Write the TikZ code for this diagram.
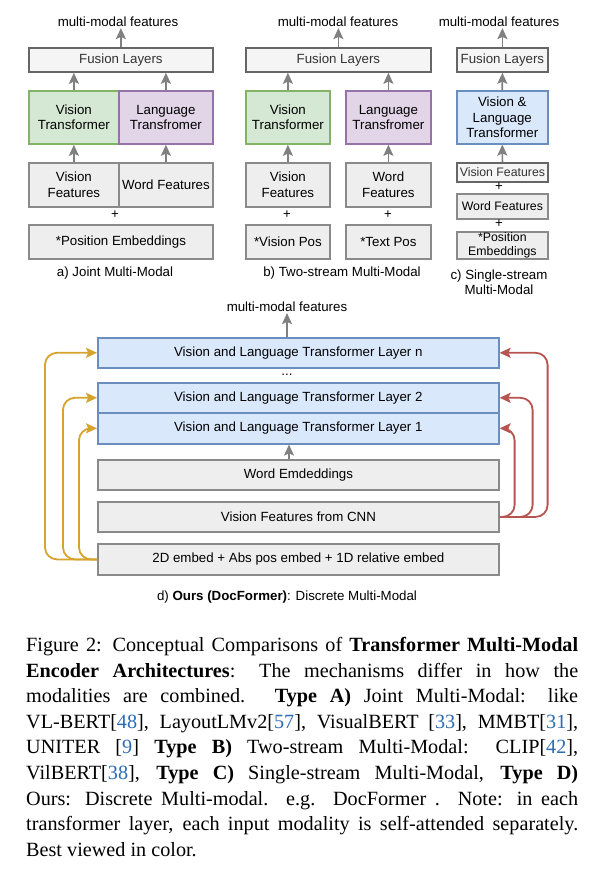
\documentclass[tikz,border=0pt]{standalone}
\usepackage{fontspec}
\setmainfont{Liberation Sans}
\newfontfamily\capfont{Liberation Serif}
\usetikzlibrary{arrows.meta}
\definecolor{grayfill}{HTML}{EEEEEE}
\definecolor{graystroke}{HTML}{8A8A8A}
\definecolor{lightfill}{HTML}{F5F5F5}
\definecolor{darkstroke}{HTML}{666666}
\definecolor{txtgray}{HTML}{333333}
\definecolor{greenfill}{HTML}{D5E8D4}
\definecolor{greenstroke}{HTML}{82B366}
\definecolor{purplefill}{HTML}{E1D5E7}
\definecolor{purplestroke}{HTML}{9673A6}
\definecolor{bluefill}{HTML}{DAE8FC}
\definecolor{bluestroke}{HTML}{6C8EBF}
\definecolor{yel}{HTML}{D6A42C}
\definecolor{redl}{HTML}{B85450}
\definecolor{arrgray}{HTML}{808080}
\definecolor{citeblue}{HTML}{2B6CB5}
\newcommand{\bx}[7]{\node[#6, anchor=north west, minimum width={#4pt-#2pt}, minimum height={#5pt-#3pt}] (#1) at (#2pt,-#3pt) {#7};}
\newcommand{\cit}[1]{{\color{citeblue}#1}}
\tikzset{
  base/.style={draw, line width=1.8pt, inner sep=1pt, align=center, font=\fontsize{13.3}{15.5}\selectfont},
  graybox/.style={base, fill=grayfill, draw=graystroke},
  fusionbox/.style={base, fill=lightfill, draw=darkstroke, text=txtgray},
  greenbox/.style={base, fill=greenfill, draw=greenstroke},
  purplebox/.style={base, fill=purplefill, draw=purplestroke},
  bluebox/.style={base, fill=bluefill, draw=bluestroke, line width=1.6pt},
  smallgray/.style={graybox, font=\fontsize{12.3}{13.5}\selectfont},
  smalllight/.style={fusionbox, font=\fontsize{12.3}{13.5}\selectfont},
  lbl/.style={inner sep=1pt, align=center, font=\fontsize{13.3}{15.5}\selectfont},
  tip/.style={-{Stealth[length=11pt,width=10pt,inset=2.2pt]}},
  arr/.style={draw=arrgray, line width=1.7pt, tip},
  yarr/.style={draw=yel, line width=1.8pt, rounded corners=12pt, tip},
  rarr/.style={draw=redl, line width=1.8pt, rounded corners=12pt, tip},
}
\begin{document}
\begin{tikzpicture}
\useasboundingbox[fill=white] (0,0) rectangle (604pt,-878pt);
% ---------- a) ----------
\node[lbl] (mma) at (118pt,-22pt) {multi-modal features};
\bx{fa}{28}{47}{212}{71}{fusionbox}{Fusion Layers}
\bx{vta}{28}{90}{118}{143}{greenbox}{Vision\\Transformer}
\bx{lta}{118}{90}{212}{143}{purplebox}{Language\\Transfromer}
\bx{vfa}{28}{162}{118}{206}{graybox}{Vision\\Features}
\bx{wfa}{118}{162}{212}{206}{graybox}{Word Features}
\node[lbl] (pla) at (115pt,-215pt) {+};
\bx{pea}{28}{224}{212}{258}{graybox}{*Position Embeddings}
\node[lbl] (capa) at (115pt,-273pt) {a) Joint Multi-Modal};
\draw[arr] (fa.north) -- (fa.north |- mma.south);
\draw[arr] (vta.north) -- (vta.north |- fa.south);
\draw[arr] (lta.north) -- (lta.north |- fa.south);
\draw[arr] (vfa.north) -- (vta.south);
\draw[arr] (wfa.north) -- (lta.south);
% ---------- b) ----------
\node[lbl] (mmb) at (338pt,-22pt) {multi-modal features};
\bx{fb}{245}{47}{430}{71}{fusionbox}{Fusion Layers}
\bx{vtb}{245}{90}{329}{143}{greenbox}{Vision\\Transformer}
\bx{ltb}{345}{90}{430}{143}{purplebox}{Language\\Transfromer}
\bx{vfb}{245}{162}{329}{206}{graybox}{Vision\\Features}
\bx{wfb}{345}{162}{430}{206}{graybox}{Word\\Features}
\node[lbl] (plb1) at (287pt,-215pt) {+};
\node[lbl] (plb2) at (388pt,-215pt) {+};
\bx{vpb}{245}{224}{329}{258}{graybox}{*Vision Pos}
\bx{tpb}{345}{224}{430}{258}{graybox}{*Text Pos}
\node[lbl] (capb) at (342pt,-273pt) {b) Two-stream Multi-Modal};
\draw[arr] (fb.north) -- (fb.north |- mmb.south);
\draw[arr] (vtb.north) -- (vtb.north |- fb.south);
\draw[arr] (ltb.north) -- (ltb.north |- fb.south);
\draw[arr] (vfb.north) -- (vtb.south);
\draw[arr] (wfb.north) -- (ltb.south);
% ---------- c) ----------
\node[lbl] (mmc) at (499pt,-22pt) {multi-modal features};
\bx{fc}{456}{47}{547}{71}{fusionbox}{Fusion Layers}
\bx{vlc}{456}{90}{547}{143}{bluebox}{Vision \&\\Language\\Transformer}
\bx{vfc}{456}{162}{547}{181}{smalllight}{Vision Features}
\node[lbl] (plc1) at (499pt,-187pt) {+};
\bx{wfc}{456}{193}{547}{218}{smallgray}{Word Features}
\node[lbl] (plc2) at (499pt,-224pt) {+};
\bx{pec}{456}{231}{547}{258}{smallgray}{*Position\\Embeddings}
\node[lbl] (capc) at (499pt,-282pt) {c) Single-stream\\Multi-Modal};
\draw[arr] (fc.north) -- (fc.north |- mmc.south);
\draw[arr] (vlc.north) -- (fc.south);
\draw[arr] (vfc.north) -- (vlc.south);
% ---------- d) ----------
\node[lbl] (mmd) at (287pt,-307pt) {multi-modal features};
\bx{ln}{97}{337}{498}{367}{bluebox}{Vision and Language Transformer Layer n}
\node[lbl] (dots) at (287pt,-375pt) {...};
\bx{l2}{97}{382}{498}{412}{bluebox}{Vision and Language Transformer Layer 2}
\bx{l1}{97}{412}{498}{443}{bluebox}{Vision and Language Transformer Layer 1}
\bx{we}{97}{459}{498}{489}{graybox}{Word Emdeddings}
\bx{vcnn}{97}{501}{498}{531}{graybox}{Vision Features from CNN}
\bx{emb}{97}{543}{498}{574}{graybox}{2D embed + Abs pos embed + 1D relative embed}
\node[lbl] (capd) at (287pt,-597pt) {d) \textbf{Ours (DocFormer)}: Discrete Multi-Modal};
\draw[arr] (ln.north -| mmd) -- (mmd.south);
\draw[arr] ([xshift=2pt]we.north -| mmd) -- ([xshift=2pt]l1.south -| mmd);
\draw[yarr] (emb.west) -| ([xshift=-52pt]ln.west) -- (ln.west);
\draw[yarr] (emb.west) -| ([xshift=-34pt]l2.west) -- (l2.west);
\draw[yarr] (emb.west) -| ([xshift=-18pt]l1.west) -- (l1.west);
\draw[rarr] (vcnn.east) -| ([xshift=48pt]ln.east) -- (ln.east);
\draw[rarr] (vcnn.east) -| ([xshift=33pt]l2.east) -- (l2.east);
\draw[rarr] (vcnn.east) -| ([xshift=15pt]l1.east) -- (l1.east);
% ---------- caption ----------
\node[anchor=north west, inner sep=0pt, text width=552pt, align=justify,
      font=\capfont\fontsize{20.2}{25.6}\selectfont] (cap) at (26pt,-637pt)
{Figure 2: Conceptual Comparisons of \textbf{Transformer Multi-Modal}\linebreak
\textbf{Encoder Architectures}:  The mechanisms differ in how the\linebreak
modalities are combined.  \textbf{Type A)} Joint Multi-Modal: like\linebreak
VL-BERT[\cit{48}], LayoutLMv2[\cit{57}], VisualBERT [\cit{33}], MMBT[\cit{31}],\linebreak
UNITER [\cit{9}] \textbf{Type B)} Two-stream Multi-Modal:  CLIP[\cit{42}],\linebreak
VilBERT[\cit{38}], \textbf{Type C)} Single-stream Multi-Modal, \textbf{Type D)}\linebreak
Ours: Discrete Multi-modal. e.g. DocFormer .  Note: in each\linebreak
transformer layer, each input modality is self-attended separately.\linebreak
Best viewed in color.\par};
\end{tikzpicture}
\end{document}
